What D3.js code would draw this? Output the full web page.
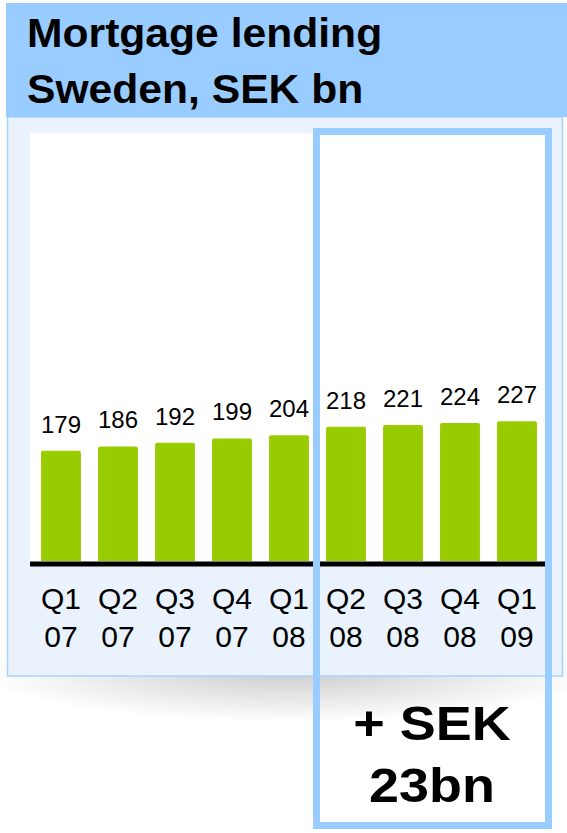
<!DOCTYPE html>
<html>
<head>
<meta charset="utf-8">
<script src="https://cdn.jsdelivr.net/npm/d3@7"></script>
<style>
  body { margin: 0; background: #fff; }
  svg { display: block; font-family: "Liberation Sans", Arial, sans-serif; }
</style>
</head>
<body>
<div id="chart"></div>
<script>
// data
var quarters = ["Q1", "Q2", "Q3", "Q4", "Q1", "Q2", "Q3", "Q4", "Q1"];
var years = ["07", "07", "07", "07", "08", "08", "08", "08", "09"];
var values = [179, 186, 192, 199, 204, 218, 221, 224, 227];
var titleLines = ["Mortgage lending", "Sweden, SEK bn"];
var calloutLines = ["+ SEK", "23bn"];

var width = 567;
var height = 833;
var blue = "#99ccff";
var green = "#99cc00";

var svg = d3.select("#chart")
    .append("svg")
    .attr("width", width)
    .attr("height", height);

var defs = svg.append("defs");
var grad = defs.append("radialGradient").attr("id", "shadow");
grad.append("stop").attr("offset", "0%").attr("stop-color", "#000").attr("stop-opacity", 0.2);
grad.append("stop").attr("offset", "100%").attr("stop-color", "#000").attr("stop-opacity", 0);

// shadow under the panel
svg.append("ellipse")
    .attr("cx", 290).attr("cy", 672)
    .attr("rx", 310).attr("ry", 50)
    .attr("fill", "url(#shadow)");

// light panel
svg.append("rect")
    .attr("x", 7.5).attr("y", 117)
    .attr("width", 555).attr("height", 559)
    .attr("fill", "#eaf3fd")
    .attr("stroke", "#a9d2fb")
    .attr("stroke-width", 1.5);

// title band
svg.append("rect")
    .attr("x", 6).attr("y", 3)
    .attr("width", 565).attr("height", 114)
    .attr("fill", blue);

svg.selectAll(".title")
    .data(titleLines)
    .enter().append("text")
    .attr("class", "title")
    .attr("transform", (d, i) => "translate(27," + (47 + i * 56) + ") scale(1.04,1)")
    .attr("font-size", 41)
    .attr("font-weight", "bold")
    .attr("fill", "#000")
    .text(d => d);

// plot area
var margin = {top: 133, bottom: 561, left: 32.5, right: 545.5};

svg.append("rect")
    .attr("x", 30).attr("y", margin.top)
    .attr("width", 518).attr("height", margin.bottom - margin.top)
    .attr("fill", "#fff");

var x = d3.scaleBand()
    .domain(d3.range(values.length))
    .range([margin.left, margin.right])
    .paddingInner(0.3)
    .paddingOuter(0.15);

var y = d3.scaleLinear()
    .domain([0, 695])
    .range([margin.bottom, margin.top]);

svg.selectAll(".bar")
    .data(values)
    .enter().append("path")
    .attr("class", "bar")
    .attr("fill", green)
    .attr("d", function(d, i) {
        var x0 = x(i), w = x.bandwidth(), top = y(d), r = 2;
        return "M" + x0 + "," + y(0)
            + "V" + (top + r)
            + "Q" + x0 + "," + top + " " + (x0 + r) + "," + top
            + "H" + (x0 + w - r)
            + "Q" + (x0 + w) + "," + top + " " + (x0 + w) + "," + (top + r)
            + "V" + y(0) + "Z";
    });

svg.selectAll(".val")
    .data(values)
    .enter().append("text")
    .attr("class", "val")
    .attr("x", (d, i) => x(i) + x.bandwidth() / 2)
    .attr("y", d => y(d) - 18)
    .attr("text-anchor", "middle")
    .attr("font-size", 24)
    .attr("fill", "#000")
    .text(d => d);

// x axis
var xAxis = svg.append("g")
    .attr("class", "x-axis")
    .attr("transform", "translate(0," + (y(0) + 3) + ")")
    .call(d3.axisBottom(x).tickSize(0).tickSizeOuter(0).tickFormat(""));

xAxis.select(".domain")
    .attr("stroke", "#000")
    .attr("stroke-width", 5)
    .attr("d", "M" + 30 + ",0H" + 548);

xAxis.selectAll(".tick text").remove();
xAxis.selectAll(".tick").each(function(i) {
    var t = d3.select(this).append("text")
        .attr("fill", "#000")
        .attr("font-size", 30)
        .attr("text-anchor", "middle");
    t.append("tspan").attr("x", 0).attr("y", 45).text(quarters[i]);
    t.append("tspan").attr("x", 0).attr("y", 83).text(years[i]);
});

// highlight frame
svg.append("rect")
    .attr("x", 316.5).attr("y", 131.5)
    .attr("width", 232).attr("height", 694)
    .attr("fill", "none")
    .attr("stroke", blue)
    .attr("stroke-width", 7);

svg.selectAll(".callout")
    .data(calloutLines)
    .enter().append("text")
    .attr("class", "callout")
    .attr("transform", (d, i) => "translate(432," + (740 + i * 62) + ") scale(1.1,1)")
    .attr("text-anchor", "middle")
    .attr("font-size", 49)
    .attr("font-weight", "bold")
    .attr("fill", "#000")
    .text(d => d);
</script>
</body>
</html>
